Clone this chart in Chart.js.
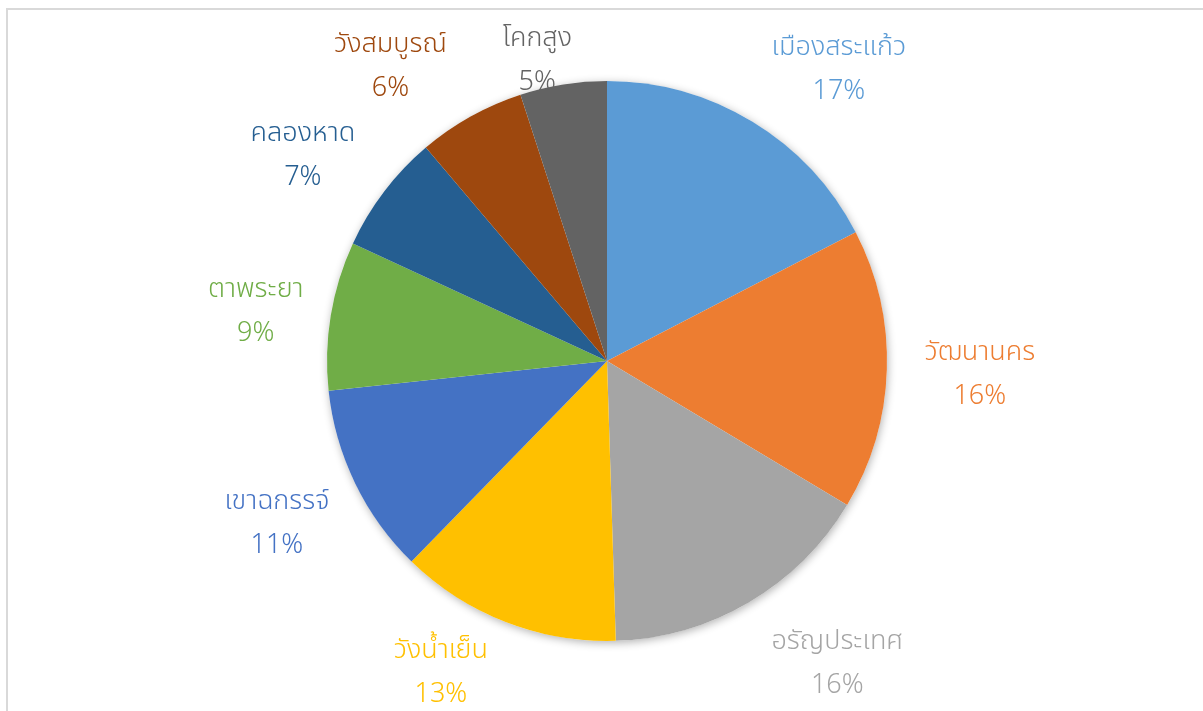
<!DOCTYPE html>
<html>
<head>
<meta charset="utf-8">
<script src="https://cdn.jsdelivr.net/npm/chart.js@4.4.1/dist/chart.umd.min.js"></script>
<style>
  html, body { margin: 0; padding: 0; background: #fff; }
  #wrap { position: relative; width: 1203px; height: 711px; overflow: hidden; }
  #frame { position: absolute; left: 6px; top: 8px; width: 1300px; height: 800px;
           border: 2px solid #d9d9d9; box-sizing: border-box; }
  #chart { position: absolute; left: 0; top: 0; }
</style>
</head>
<body>
<div id="wrap">
  <div id="frame"></div>
  <canvas id="chart" width="1203" height="711"></canvas>
</div>
<script>
// District share (percent of total)
const districts = ['เมืองสระแก้ว', 'วัฒนานคร', 'อรัญประเทศ', 'วังน้ำเย็น', 'เขาฉกรรจ์',
  'ตาพระยา', 'คลองหาด', 'วังสมบูรณ์', 'โคกสูง'];
const shares = [17.4, 16.2, 15.9, 12.8, 11.0, 8.6, 6.9, 6.2, 5.0];
const colors = ['#5b9bd5', '#ed7d31', '#a5a5a5', '#ffc000', '#4472c4',
  '#70ad47', '#255e91', '#9e480e', '#636363'];

// label placement relative to each slice: angle shift (deg) and gap beyond the rim (px)
const labelAngleShift = [7, 0, -7, 7, 0, -1, -3, -7, -4];
const labelGap = [94, 93, 99, 71, 87, 75, 88, 87, 30];

const FONT = '"Noto Sans Thai", "Noto Sans", sans-serif';

// soft shadow behind the whole pie
const pieShadow = {
  id: 'pieShadow',
  beforeDatasetsDraw(chart) {
    const arc = chart.getDatasetMeta(0).data[0];
    if (!arc) return;
    const ctx = chart.ctx;
    ctx.save();
    ctx.shadowColor = 'rgba(0,0,0,0.3)';
    ctx.shadowBlur = 8;
    ctx.shadowOffsetX = 1;
    ctx.shadowOffsetY = 2;
    ctx.fillStyle = '#fff';
    ctx.beginPath();
    ctx.arc(arc.x, arc.y, arc.outerRadius, 0, Math.PI * 2);
    ctx.fill();
    ctx.restore();
  }
};

// category name + percent outside each slice
const outsideLabels = {
  id: 'outsideLabels',
  afterDatasetsDraw(chart) {
    const ctx = chart.ctx;
    const data = chart.data.datasets[0].data;
    const total = data.reduce((a, b) => a + b, 0);
    ctx.save();
    ctx.textAlign = 'center';
    ctx.textBaseline = 'middle';
    ctx.font = '300 27px ' + FONT;
    chart.getDatasetMeta(0).data.forEach((arc, i) => {
      const mid = (arc.startAngle + arc.endAngle) / 2 + labelAngleShift[i] * Math.PI / 180;
      const d = arc.outerRadius + labelGap[i];
      const cx = arc.x + Math.cos(mid) * d;
      const cy = arc.y + Math.sin(mid) * d;
      ctx.fillStyle = colors[i];
      ctx.fillText(chart.data.labels[i], cx, cy - 18);
      ctx.fillText(Math.round(data[i] / total * 100) + '%', cx, cy + 26);
    });
    ctx.restore();
  }
};

new Chart(document.getElementById('chart'), {
  type: 'pie',
  data: {
    labels: districts,
    datasets: [{
      data: shares,
      backgroundColor: colors,
      borderWidth: 0,
    }],
  },
  options: {
    responsive: false,
    animation: false,
    layout: { padding: { top: 81, bottom: 70, left: 11, right: 0 } },
    plugins: {
      legend: { display: false },
      tooltip: { enabled: false },
    },
  },
  plugins: [pieShadow, outsideLabels],
});
</script>
</body>
</html>
